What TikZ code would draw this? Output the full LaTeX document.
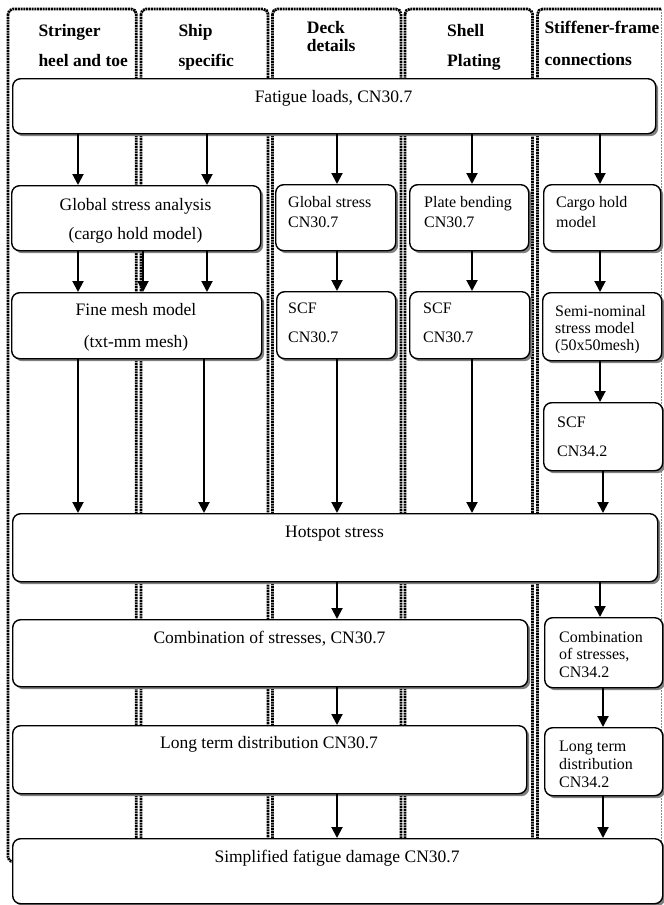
\documentclass[tikz,border=0pt]{standalone}
\usepackage{fontspec}
\setmainfont{Liberation Serif}
\usetikzlibrary{arrows.meta,shadows}
\begin{document}
\begin{tikzpicture}[x=1pt,y=-1pt,
  lane/.style={line width=2.8pt, dash pattern=on 2pt off 0.75pt, rounded corners=5pt},
  lanethin/.style={line width=0.8pt, black!45, dash pattern=on 1.5pt off 1.5pt},
  fbox/.style={draw, line width=1.4pt, rounded corners=8pt, fill=white,
    drop shadow={shadow xshift=2.5pt, shadow yshift=-2.5pt, fill=black!50, opacity=1},
    inner sep=0pt, anchor=north west},
  arr/.style={line width=2pt, -{Triangle[length=11pt,width=11pt]}},
  hd/.style={font=\fontsize{17.5}{20}\selectfont\bfseries, inner sep=0pt, anchor=base west},
  bt/.style={font=\fontsize{17.5}{20}\selectfont, inner sep=0pt, anchor=base},
  st/.style={font=\fontsize{16}{18}\selectfont, inner sep=0pt, anchor=base west},
]
\useasboundingbox (0,0) rectangle (664,905);
\fill[white] (0,0) rectangle (664,905);

% lanes
\draw[lane] (8,9) rectangle (136.3,862);
\draw[lane] (141,9) rectangle (268,862);
\draw[lane] (272.5,9) rectangle (401,862);
\draw[lane] (405,9) rectangle (532.5,862);
\draw[lane] (661,9) -- (537.5,9) -- (537.5,862) -- (661,862);
\draw[lanethin] (661,9) -- (661,862);

% headers
\node[hd] (h1a) at (38.3,36.5) {Stringer};
\node[hd] (h1b) at (38.3,66.7) {heel and toe};
\node[hd] (h2a) at (178.3,36.5) {Ship};
\node[hd] (h2b) at (178.3,66.7) {specific};
\node[hd] (h3a) at (306.7,33) {Deck};
\node[hd] (h3b) at (306.7,51.5) {details};
\node[hd] (h4a) at (447,36.5) {Shell};
\node[hd] (h4b) at (447,66.7) {Plating};
\node[hd] (h5a) at (544.3,33.3) {Stiffener-frame};
\node[hd] (h5b) at (544.3,65) {connections};

% boxes
\node[fbox, minimum width=643pt, minimum height=55pt] (fatigue) at (12,78) {};
\node[fbox, minimum width=249pt, minimum height=65pt] (gsa) at (11,185) {};
\node[fbox, minimum width=250pt, minimum height=66pt] (fine) at (11,292) {};
\node[fbox, minimum width=120pt, minimum height=66pt] (deckg) at (275,184) {};
\node[fbox, minimum width=119pt, minimum height=67pt] (decks) at (276,291) {};
\node[fbox, minimum width=119pt, minimum height=66pt] (plate) at (409,184) {};
\node[fbox, minimum width=120pt, minimum height=67pt] (shells) at (409,291) {};
\node[fbox, minimum width=117pt, minimum height=66pt] (cargo) at (543,184) {};
\node[fbox, minimum width=119pt, minimum height=68pt] (semi) at (542,292) {};
\node[fbox, minimum width=119pt, minimum height=68pt] (scfb) at (543,402) {};
\node[fbox, minimum width=645pt, minimum height=68pt] (hot) at (12,513) {};
\node[fbox, minimum width=515pt, minimum height=67pt] (comba) at (12,619) {};
\node[fbox, minimum width=118pt, minimum height=70pt] (combb) at (544,617) {};
\node[fbox, minimum width=514pt, minimum height=68pt] (longa) at (12,725) {};
\node[fbox, minimum width=118pt, minimum height=68pt] (longb) at (544,727) {};
\node[fbox, minimum width=650pt, minimum height=65pt] (simp) at (12,838) {};

% wide box texts
\node[bt] (tfat) at (333.5,102) {Fatigue loads, CN30.7};
\node[bt] (tgsa1) at (135.5,210) {Global stress analysis};
\node[bt] (tgsa2) at (135.5,239.5) {(cargo hold model)};
\node[bt] (tfine1) at (136,315) {Fine mesh model};
\node[bt] (tfine2) at (136,347) {(txt-mm mesh)};
\node[bt] (thot) at (334.5,537) {Hotspot stress};
\node[bt] (tcomba) at (269.5,643.5) {Combination of stresses, CN30.7};
\node[bt] (tlonga) at (269,748) {Long term distribution CN30.7};
\node[bt] (tsimp) at (337,862) {Simplified fatigue damage CN30.7};

% narrow box texts
\node[st] (tdg1) at (288,207) {Global stress};
\node[st] (tdg2) at (288,227) {CN30.7};
\node[st] (tpl1) at (424,207) {Plate bending};
\node[st] (tpl2) at (424,227) {CN30.7};
\node[st] (tcg1) at (556,207) {Cargo hold};
\node[st] (tcg2) at (556,227) {model};
\node[st] (tds1) at (288,313) {SCF};
\node[st] (tds2) at (288,342) {CN30.7};
\node[st] (tss1) at (423,313) {SCF};
\node[st] (tss2) at (423,342) {CN30.7};
\node[st] (tsm1) at (555,316) {Semi-nominal};
\node[st] (tsm2) at (555,333) {stress model};
\begin{scope}
\clip (540,290) rectangle (662,352);
\node[st] (tsm3) at (555,350) {(50x50mesh)};
\end{scope}
\node[st] (tsc1) at (557,427) {SCF};
\node[st] (tsc2) at (557,456) {CN34.2};
\node[st] (tcb1) at (559,642) {Combination};
\node[st] (tcb2) at (559,659) {of stresses,};
\node[st] (tcb3) at (559,677) {CN34.2};
\node[st] (tlb1) at (559,751) {Long term};
\node[st] (tlb2) at (559,769) {distribution};
\node[st] (tlb3) at (559,787) {CN34.2};

% arrow columns
\coordinate (xa) at (78,0);
\coordinate (xm) at (143,0);
\coordinate (xb) at (207,0);
\coordinate (xbb) at (204,0);
\coordinate (xc) at (337,0);
\coordinate (xd) at (472,0);
\coordinate (xe) at (600,0);
\coordinate (xf) at (603,0);

\draw[arr] (fatigue.south -| xa) -- (gsa.north -| xa);
\draw[arr] (fatigue.south -| xb) -- (gsa.north -| xb);
\draw[arr] (fatigue.south -| xc) -- (deckg.north -| xc);
\draw[arr] (fatigue.south -| xd) -- (plate.north -| xd);
\draw[arr] (fatigue.south -| xe) -- (cargo.north -| xe);

\draw[arr] (gsa.south -| xa) -- (fine.north -| xa);
\draw[arr] (gsa.south -| xm) -- (fine.north -| xm);
\draw[arr] (gsa.south -| xb) -- (fine.north -| xb);
\draw[arr] (deckg.south -| xc) -- (decks.north -| xc);
\draw[arr] (plate.south -| xd) -- (shells.north -| xd);
\draw[arr] (cargo.south -| xe) -- (semi.north -| xe);

\draw[arr] (fine.south -| xa) -- (hot.north -| xa);
\draw[arr] (fine.south -| xbb) -- (hot.north -| xbb);
\draw[arr] (decks.south -| xc) -- (hot.north -| xc);
\draw[arr] (shells.south -| xd) -- (hot.north -| xd);
\draw[arr] (semi.south -| xe) -- (scfb.north -| xe);
\draw[arr] (scfb.south -| xf) -- (hot.north -| xf);

\draw[arr] (hot.south -| xc) -- (comba.north -| xc);
\draw[arr] (hot.south -| xe) -- (combb.north -| xe);
\draw[arr] (comba.south -| xc) -- (longa.north -| xc);
\draw[arr] (combb.south -| xf) -- (longb.north -| xf);
\draw[arr] (longa.south -| xc) -- (simp.north -| xc);
\draw[arr] (longb.south -| xf) -- (simp.north -| xf);
\end{tikzpicture}
\end{document}
